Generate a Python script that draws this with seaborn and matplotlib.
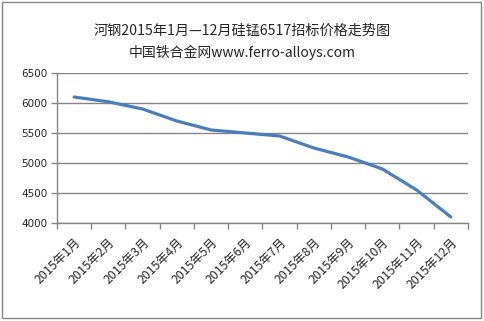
import matplotlib
matplotlib.use("Agg")
import matplotlib.pyplot as plt
import matplotlib.patches as mpatches
from matplotlib.ticker import FixedLocator
import seaborn as sns
import pandas as pd

months = ["2015年1月", "2015年2月", "2015年3月", "2015年4月", "2015年5月", "2015年6月",
          "2015年7月", "2015年8月", "2015年9月", "2015年10月", "2015年11月", "2015年12月"]
prices = [6100, 6020, 5900, 5700, 5550, 5500, 5450, 5250, 5100, 4900, 4550, 4100]
yticks = [4000, 4500, 5000, 5500, 6000, 6500]

sns.set_theme(style="white")
plt.rcParams['font.family'] = ['Noto Sans CJK SC', 'DejaVu Sans']

df = pd.DataFrame({"month": months, "price": prices})

fig = plt.figure(figsize=(4.85, 3.21), dpi=100)
ax = fig.add_axes([57/485, 1-223/321, (468-57)/485, (223-73)/321])

sns.lineplot(data=df, x="month", y="price", ax=ax, color="#4a7ebb", linewidth=2.3, sort=False)

ax.set_xlim(-0.5, len(months) - 0.5)
ax.set_ylim(4000, 6500)
ax.set_yticks(yticks)
ax.set_yticklabels([str(v) for v in yticks], fontsize=7.5, family="DejaVu Sans")
ax.set_xticks(range(len(months)))
ax.set_xticklabels(months, rotation=45, ha="right", rotation_mode="anchor", fontsize=8.8)
ax.xaxis.set_minor_locator(FixedLocator([i - 0.5 for i in range(len(months) + 1)]))
ax.tick_params(axis="x", which="major", length=0, pad=9)
ax.tick_params(axis="x", which="minor", length=4, color="#868686", width=1, direction="out", bottom=True)
ax.tick_params(axis="y", length=4, color="#868686", width=1, direction="out", left=True, pad=3)
ax.set_xlabel("")
ax.set_ylabel("")
ax.grid(axis="y", color="#868686", linewidth=1)
ax.set_axisbelow(True)
for s in ["top", "right"]:
    ax.spines[s].set_visible(False)
for s in ["left", "bottom"]:
    ax.spines[s].set_color("#868686")
    ax.spines[s].set_linewidth(1)

fig.text(0.5, 1-31/321, "河钢2015年1月—12月硅锰6517招标价格走势图", ha="center", va="center", fontsize=10.2)
fig.text(0.5, 1-52/321, "中国铁合金网www.ferro-alloys.com", ha="center", va="center", fontsize=10)

fig.patches.append(mpatches.Rectangle((2/485, 3/321), 479/485, 316/321, transform=fig.transFigure,
                                      fill=False, edgecolor="#868686", linewidth=1))

fig.savefig("out.png", dpi=100, facecolor="white")
